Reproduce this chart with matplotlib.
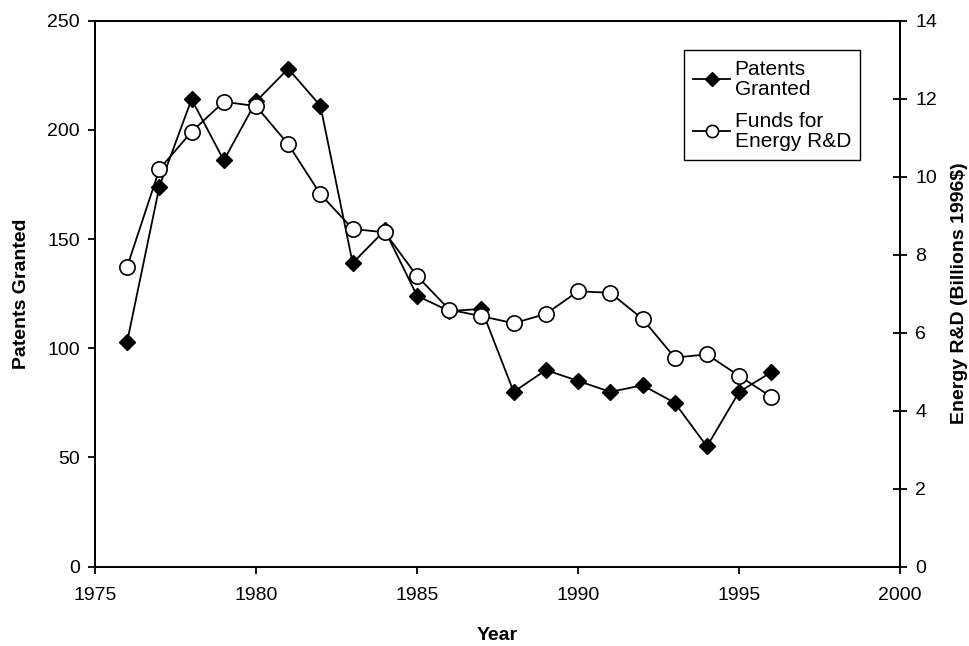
import matplotlib
matplotlib.use('Agg')
import matplotlib.pyplot as plt

plt.rcParams['font.family'] = ['Liberation Sans', 'DejaVu Sans']

# data
years = [1976, 1977, 1978, 1979, 1980, 1981, 1982, 1983, 1984, 1985, 1986,
         1987, 1988, 1989, 1990, 1991, 1992, 1993, 1994, 1995, 1996]
patents = [103, 174, 214, 186, 213, 228, 211, 139, 154, 124, 117,
           118, 80, 90, 85, 80, 83, 75, 55, 80, 89]
funds = [7.69, 10.19, 11.15, 11.92, 11.81, 10.83, 9.55, 8.66, 8.57, 7.45, 6.59,
         6.42, 6.24, 6.48, 7.06, 7.02, 6.35, 5.36, 5.44, 4.89, 4.35]

fig = plt.figure(figsize=(9.69, 6.46), dpi=100)
ax = fig.add_axes([0.098, 0.123, 0.831, 0.845])
ax2 = ax.twinx()

l1, = ax.plot(years, patents, color='black', lw=1.3, marker='D', ms=8.5,
              mfc='black', mec='black', label='Patents\nGranted', zorder=3)
l2, = ax2.plot(years, funds, color='black', lw=1.3, marker='o', ms=11,
               mfc='white', mec='black', mew=1.2, label='Funds for\nEnergy R&D')

ax.set_xlim(1975, 2000)
ax.set_ylim(0, 250)
ax2.set_ylim(0, 14)
ax.set_xticks(range(1975, 2001, 5))
ax.set_yticks(range(0, 251, 50))
ax2.set_yticks(range(0, 15, 2))

ax.tick_params(labelsize=14, direction='out', length=5, width=1.3, pad=6)
ax.tick_params(axis='x', pad=10)
ax2.tick_params(labelsize=14, direction='inout', length=10, width=1.3, pad=6)
for a in (ax, ax2):
    for s in a.spines.values():
        s.set_linewidth(1.3)

ax.set_xlabel('Year', fontsize=14, fontweight='bold', labelpad=16)
ax.set_ylabel('Patents Granted', fontsize=14, fontweight='bold', labelpad=12)
ax2.set_ylabel('Energy R&D (Billions 1996$)', fontsize=14, fontweight='bold', labelpad=10)

leg = ax.legend(handles=[l1, l2], loc='upper left', bbox_to_anchor=(0.731, 0.946),
                fontsize=15, fancybox=False, edgecolor='black', framealpha=1,
                handlelength=1.8, handletextpad=0.2, borderpad=0.45,
                labelspacing=0.6, markerscale=0.8, borderaxespad=0)
leg.get_frame().set_linewidth(1.0)
for t in leg.get_texts():
    t.set_linespacing(1.1)

fig.savefig('out.png', dpi=100)
